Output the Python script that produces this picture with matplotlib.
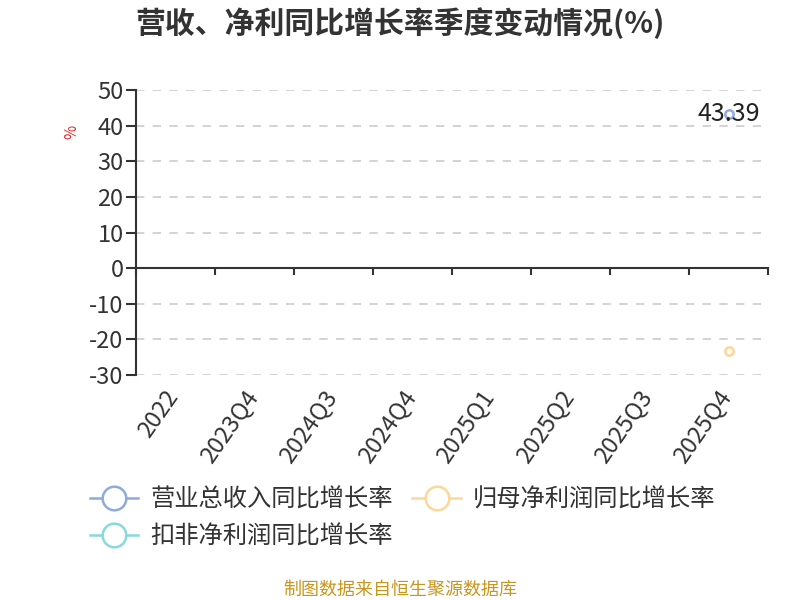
import matplotlib
matplotlib.use("Agg")
import matplotlib.pyplot as plt
import matplotlib.transforms as mtransforms
from matplotlib.lines import Line2D
import numpy as np

plt.rcParams['font.family'] = ['Noto Sans CJK SC', 'DejaVu Sans']

categories = ['2022', '2023Q4', '2024Q3', '2024Q4', '2025Q1', '2025Q2', '2025Q3', '2025Q4']
revenue_yoy = [np.nan, np.nan, np.nan, np.nan, np.nan, np.nan, np.nan, 43.39]
netprofit_yoy = [np.nan, np.nan, np.nan, np.nan, np.nan, np.nan, np.nan, -23.3]
deducted_yoy = [np.nan] * 8
series_names = ['营业总收入同比增长率', '归母净利润同比增长率', '扣非净利润同比增长率']
colors = ['#8fabdd', '#fdd79a', '#88d9dd']
yticks = [-30, -20, -10, 0, 10, 20, 30, 40, 50]

fig = plt.figure(figsize=(8, 6), dpi=100)
ax = fig.add_axes([0.17, 0.375, 0.79, 0.475])

x = np.arange(len(categories))
for vals, c in zip([revenue_yoy, netprofit_yoy, deducted_yoy], colors):
    ax.plot(x, vals, color=c, marker='o', markersize=6, markerfacecolor='white',
            markeredgecolor=c, markeredgewidth=1.8, linewidth=1.5, zorder=3)

# label
for i, v in enumerate(revenue_yoy):
    if not np.isnan(v):
        ax.text(i, v, f'{v:.2f}', ha='center', va='center', fontsize=18, color='#222222', zorder=4)

ax.set_xlim(-0.5, len(categories) - 0.5)
ax.set_ylim(-30, 50)
ax.set_yticks(yticks)
ax.set_yticklabels([str(t) for t in yticks], fontsize=17, color='#333333')
ax.tick_params(axis='y', length=7, width=1.5, color='#333333', pad=2)

for t in yticks:
    if t != 0:
        ax.axhline(t, color='#cccccc', linestyle=(0, (5, 5)), linewidth=1.2, zorder=1)

for s in ['top', 'right']:
    ax.spines[s].set_visible(False)
ax.spines['left'].set_color('#333333')
ax.spines['left'].set_linewidth(1.5)
ax.spines['bottom'].set_position(('data', 0))
ax.spines['bottom'].set_color('#333333')
ax.spines['bottom'].set_linewidth(1.5)

ax.set_xticks(x)
ax.set_xticklabels([])
ax.tick_params(axis='x', which='major', length=0)
ax.set_xticks(np.arange(len(categories) + 1) - 0.5, minor=True)
ax.tick_params(axis='x', which='minor', length=5, width=1.5, color='#333333', direction='out')

trans = mtransforms.blended_transform_factory(ax.transData, ax.transAxes)
trans = mtransforms.offset_copy(trans, fig=fig, x=-8, y=-8, units='points')
for i, lab in enumerate(categories):
    ax.text(i, 0, lab, transform=trans, rotation=55, ha='right', va='top',
            rotation_mode='anchor', fontsize=17, color='#333333')

fig.text(0.09, 0.78, '%', rotation=90, color='#ee2222', fontsize=11, ha='center', va='center')

fig.text(0.5, 0.962, '营收、净利同比增长率季度变动情况(%)', ha='center', va='center',
         fontsize=21.5, fontweight='bold', color='#333333')

handles = [Line2D([0], [0], color=c, marker='o', markersize=17, markerfacecolor='white',
                  markeredgecolor=c, markeredgewidth=1.8, linewidth=1.8) for c in colors]
order = [0, 2, 1]
leg = fig.legend([handles[i] for i in order], [series_names[i] for i in order],
                 loc='upper left', bbox_to_anchor=(0.1, 0.205),
                 ncol=2, frameon=False, fontsize=17.5, handlelength=2.0, handletextpad=0.5,
                 columnspacing=0.8, labelspacing=0.45, borderaxespad=0)
for t in leg.get_texts():
    t.set_color('#333333')

fig.text(0.5, 0.018, '制图数据来自恒生聚源数据库', ha='center', va='center', fontsize=13, color='#c8961e')

fig.savefig('out.png', dpi=100)
